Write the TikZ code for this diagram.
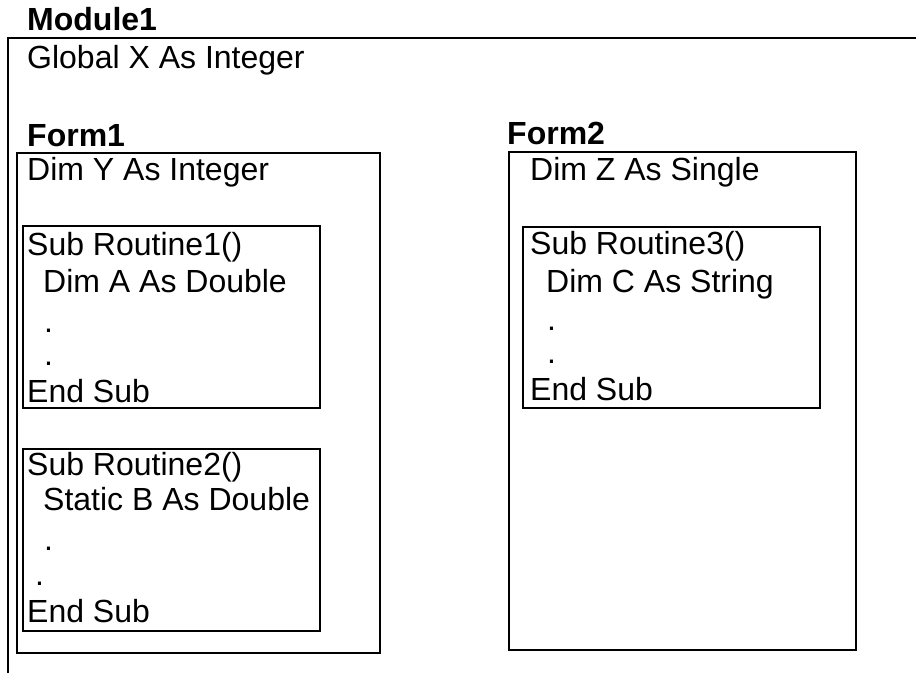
\documentclass[tikz,border=0pt]{standalone}
\usepackage{fontspec}
\setmainfont{Liberation Sans}

\begin{document}
\begin{tikzpicture}[x=1pt, y=-1pt,
    txt/.style={anchor=base west, inner sep=0pt, font=\fontsize{32}{38}\selectfont},
    ttl/.style={anchor=base west, inner sep=0pt, font=\fontsize{32}{38}\selectfont\bfseries},
    box/.style={draw, line width=2.6pt}]
            \useasboundingbox (0,0) rectangle (916,673);

            % Module frame, open at the right and at the bottom
            \draw[line width=2.8pt] (8,673) -- (8,38) -- (916,38);
            \node[ttl] (mod) at (27,30) {Module1};
            \node[txt] (glob) at (27,68) {Global X As Integer};

            % Form1 with its two routines
            \node[ttl] (frm1) at (27,146) {Form1};
            \draw[box] (17,153) rectangle (380,653);
            \node[txt] (dimy) at (27,180) {Dim Y As Integer};

            \draw[box] (23,226) rectangle (320,408);
            \node[txt] (r1a) at (27,255) {Sub Routine1()};
            \node[txt] (r1b) at (43,292) {Dim A As Double};
            \node[txt] (r1c) at (44,332) {.};
            \node[txt] (r1d) at (44,365) {.};
            \node[txt] (r1e) at (27,402) {End Sub};

            \draw[box] (23,449) rectangle (320,631);
            \node[txt] (r2a) at (27,475) {Sub Routine2()};
            \node[txt] (r2b) at (43,510) {Static B As Double};
            \node[txt] (r2c) at (44,550) {.};
            \node[txt] (r2d) at (35,585) {.};
            \node[txt] (r2e) at (27,622) {End Sub};

            % Form2 with one routine
            \node[ttl] (frm2) at (507,144) {Form2};
            \draw[box] (509,152) rectangle (856,650);
            \node[txt] (dimz) at (530,180) {Dim Z As Single};

            \draw[box] (523,227) rectangle (820,408);
            \node[txt] (r3a) at (530,254) {Sub Routine3()};
            \node[txt] (r3b) at (546,292) {Dim C As String};
            \node[txt] (r3c) at (547,330) {.};
            \node[txt] (r3d) at (547,363) {.};
            \node[txt] (r3e) at (530,400) {End Sub};
        \end{tikzpicture}
\end{document}
